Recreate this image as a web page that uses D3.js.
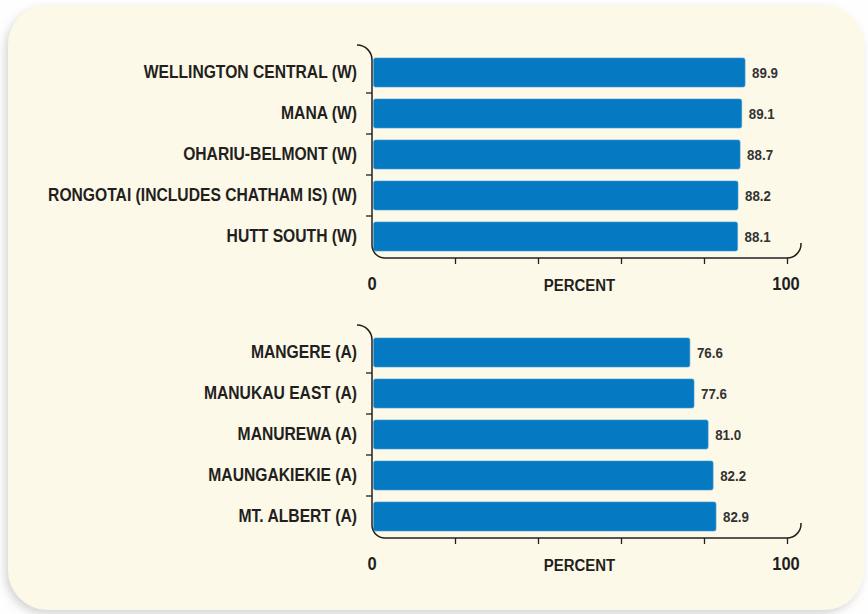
<!DOCTYPE html>
<html><head><meta charset="utf-8">
<script src="https://cdn.jsdelivr.net/npm/d3@7/dist/d3.min.js"></script>
<style>html,body{margin:0;padding:0;background:#fff;}svg{display:block;}</style>
</head><body>
<script>
const topCategories = ["WELLINGTON CENTRAL (W)","MANA (W)","OHARIU-BELMONT (W)","RONGOTAI (INCLUDES CHATHAM IS) (W)","HUTT SOUTH (W)"];
const topValues = [89.9, 89.1, 88.7, 88.2, 88.1];
const bottomCategories = ["MANGERE (A)","MANUKAU EAST (A)","MANUREWA (A)","MAUNGAKIEKIE (A)","MT. ALBERT (A)"];
const bottomValues = [76.6, 77.6, 81.0, 82.2, 82.9];
const xTicks = [20, 40, 60, 80, 100];
const xEndLabels = ["0", "100"];
const axisTitle = "PERCENT";

const W = 868, H = 614;
const ink = "#231f20";
const barColor = "#0579c2";
const font = "'Liberation Sans', Arial, sans-serif";
const condense = 0.87;

const svg = d3.select("body").append("svg").attr("width", W).attr("height", H);
const defs = svg.append("defs");
const f = defs.append("filter").attr("id","sh").attr("x","-10%").attr("y","-10%").attr("width","120%").attr("height","120%");
f.append("feDropShadow").attr("dx",-3).attr("dy",4).attr("stdDeviation",4).attr("flood-color","#888").attr("flood-opacity",0.35);

svg.append("rect").attr("width",W).attr("height",H).attr("fill","#fefefe");
svg.append("rect").attr("x",8).attr("y",5).attr("width",856).attr("height",605).attr("rx",40).attr("ry",40)
  .attr("fill","#fdf9e9").attr("filter","url(#sh)");

const x = d3.scaleLinear().domain([0,100]).range([372,787]);

function ctext(g, tx, ty, s) {
  return g.append("text").attr("transform", `translate(${tx},${ty}) scale(${s},1)`)
    .attr("dominant-baseline","central").attr("font-family", font).attr("font-weight","bold").attr("fill", ink);
}

function panel(cats, vals, dy) {
  const g = svg.append("g").attr("transform", `translate(0,${dy})`);
  const y = d3.scaleBand().domain(cats).range([52,257]).paddingInner(0.29).paddingOuter(0.145);
  const data = cats.map((c,i)=>({c, v: vals[i]}));

  g.selectAll("rect.bar").data(data).join("rect").attr("class","bar")
    .attr("x", x(0)+1.5).attr("y", d=>y(d.c))
    .attr("width", d=>x(d.v)-x(0)-1.5).attr("height", y.bandwidth())
    .attr("rx",2).attr("fill",barColor).attr("stroke","#4d9fd6").attr("stroke-width",0.6);

  g.selectAll("text.val").data(data).join("text").attr("class","val")
    .attr("transform", d=>`translate(${x(d.v)+7},${y(d.c)+y.bandwidth()/2}) scale(0.92,1)`)
    .attr("dominant-baseline","central")
    .attr("font-family", font).attr("font-weight","bold").attr("font-size",14.5).attr("fill","#333")
    .text(d=>d.v.toFixed(1));

  g.selectAll("text.cat").data(data).join("text").attr("class","cat")
    .attr("transform", d=>`translate(357,${y(d.c)+y.bandwidth()/2}) scale(${condense},1)`)
    .attr("text-anchor","end").attr("dominant-baseline","central")
    .attr("font-family", font).attr("font-weight","bold").attr("font-size",18).attr("fill",ink)
    .text(d=>d.c);

  // bracket axis
  const x0 = x(0), x1 = x(100), yb = 258;
  const p = d3.path();
  p.moveTo(x0-15, 45);
  p.arcTo(x0, 45, x0, 60, 15);
  p.lineTo(x0, yb-13);
  p.arcTo(x0, yb, x0+13, yb, 13);
  p.lineTo(x1, yb);
  p.arcTo(x1+14, yb, x1+14, yb-15, 14);
  p.lineTo(x1+14, yb-15);
  g.append("path").attr("d", p.toString()).attr("fill","none").attr("stroke",ink).attr("stroke-width",1.5);

  // y ticks at band boundaries
  const step = y.step();
  g.selectAll("line.yt").data(cats.slice(1)).join("line").attr("class","yt")
    .attr("x1", x0-6).attr("x2", x0)
    .attr("y1", c=>y(c)-step*y.paddingInner()/2).attr("y2", c=>y(c)-step*y.paddingInner()/2)
    .attr("stroke", ink).attr("stroke-width",1.3);

  // x ticks
  const ax = g.append("g").attr("transform",`translate(0,${yb})`)
    .call(d3.axisBottom(x).tickValues(xTicks).tickSize(6).tickFormat(""));
  ax.select(".domain").remove();
  ax.selectAll(".tick line").attr("stroke",ink).attr("stroke-width",1.3);

  ctext(g, x(0), 284, 0.92).attr("text-anchor","middle").attr("font-size",18).text(xEndLabels[0]);
  ctext(g, x(100)-1, 284, 0.92).attr("text-anchor","middle").attr("font-size",18).text(xEndLabels[1]);
  ctext(g, (x(0)+x(100))/2, 285, 0.88).attr("text-anchor","middle").attr("font-size",17).text(axisTitle);
}

panel(topCategories, topValues, 0);
panel(bottomCategories, bottomValues, 280);
</script>
</body></html>
